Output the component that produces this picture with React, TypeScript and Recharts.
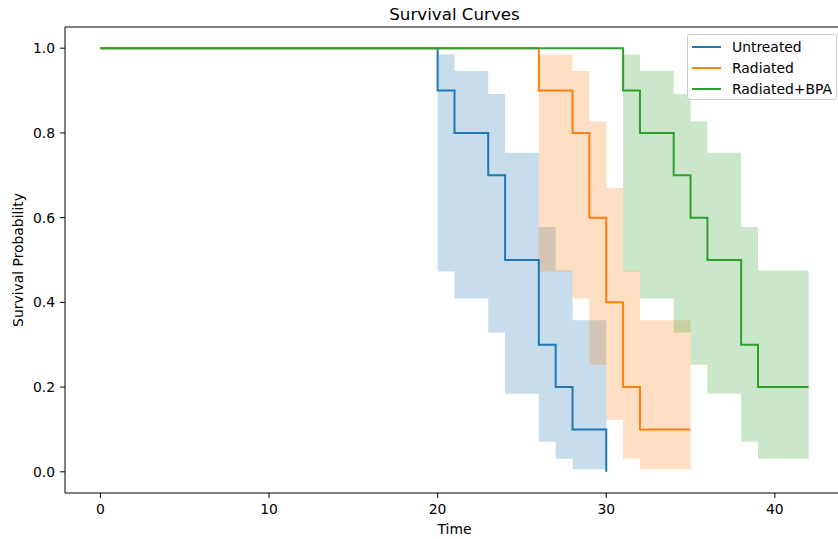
import React from "react";
import {
  Area,
  ComposedChart,
  Legend,
  Line,
  ReferenceLine,
  XAxis,
  YAxis
} from "recharts";

// Kaplan-Meier estimates (time, survival)
const untreatedTimes = [0, 20, 21, 23, 24, 26, 27, 28, 30];
const untreatedSurvival = [1, 0.9, 0.8, 0.7, 0.5, 0.3, 0.2, 0.1, 0];

const radiatedTimes = [0, 26, 28, 29, 30, 31, 32, 35];
const radiatedSurvival = [1, 0.9, 0.8, 0.6, 0.4, 0.2, 0.1, 0.1];

const bpaTimes = [0, 31, 32, 34, 35, 36, 38, 39, 42];
const bpaSurvival = [1, 0.9, 0.8, 0.7, 0.6, 0.5, 0.3, 0.2, 0.2];

// confidence bands (lower / upper)
const untreatedBandTimes = [20, 21, 23, 24, 26, 27, 28, 30];
const untreatedLower = [0.473, 0.409, 0.329, 0.184, 0.071, 0.031, 0.006, 0];
const untreatedUpper = [0.985, 0.946, 0.892, 0.753, 0.578, 0.475, 0.358, 0];

const radiatedBandTimes = [26, 28, 29, 30, 31, 32, 35];
const radiatedLower = [0.473, 0.409, 0.253, 0.123, 0.031, 0.006, 0.006];
const radiatedUpper = [0.985, 0.946, 0.827, 0.67, 0.475, 0.358, 0.358];

const bpaBandTimes = [31, 32, 34, 35, 36, 38, 39, 42];
const bpaLower = [0.473, 0.409, 0.329, 0.253, 0.184, 0.071, 0.031, 0.031];
const bpaUpper = [0.985, 0.946, 0.892, 0.827, 0.753, 0.578, 0.475, 0.475];

const xTicks = [0, 10, 20, 30, 40];
const yTicks = [0, 0.2, 0.4, 0.6, 0.8, 1.0];

const toLine = (t: number[], s: number[]) => t.map((x, i) => ({ t: x, s: s[i] }));
const toBand = (t: number[], lo: number[], hi: number[]) =>
  t.map((x, i) => ({ t: x, ci: [lo[i], hi[i]] }));

const groups = [
  {
    name: "Untreated",
    color: "#1f77b4",
    line: toLine(untreatedTimes, untreatedSurvival),
    band: toBand(untreatedBandTimes, untreatedLower, untreatedUpper)
  },
  {
    name: "Radiated",
    color: "#ff7f0e",
    line: toLine(radiatedTimes, radiatedSurvival),
    band: toBand(radiatedBandTimes, radiatedLower, radiatedUpper)
  },
  {
    name: "Radiated+BPA",
    color: "#2ca02c",
    line: toLine(bpaTimes, bpaSurvival),
    band: toBand(bpaBandTimes, bpaLower, bpaUpper)
  }
];

const FONT = "'DejaVu Sans', sans-serif";
const tickStyle = { fill: "#000", fontSize: 13.9, fontFamily: FONT };

const renderLegend = () => (
  <div
    style={{
      width: 150,
      height: 66,
      boxSizing: "border-box",
      border: "1px solid #cccccc",
      borderRadius: 3,
      background: "rgba(255,255,255,0.8)",
      paddingTop: 1,
      fontFamily: FONT,
      fontSize: 13.9,
      color: "#000"
    }}
  >
    {groups.map((g) => (
      <div key={g.name} style={{ display: "flex", alignItems: "center", height: 21 }}>
        <div style={{ marginLeft: 4, width: 29, height: 2, background: g.color }} />
        <span style={{ marginLeft: 11, whiteSpace: "nowrap" }}>{g.name}</span>
      </div>
    ))}
  </div>
);

export default function App() {
  return (
    <div
      style={{
        position: "absolute",
        left: 0,
        top: 0,
        width: 838,
        height: 539,
        overflow: "hidden",
        background: "#fff"
      }}
    >
      <ComposedChart
        width={850}
        height={539}
        margin={{ top: 27, right: 6, bottom: 0, left: 0 }}
      >
        <XAxis
          type="number"
          dataKey="t"
          domain={[-2.1, 44.1]}
          ticks={xTicks}
          allowDataOverflow
          height={46}
          tickSize={5}
          tickMargin={6}
          tick={tickStyle}
          stroke="#000"
          tickLine={{ stroke: "#000" }}
          label={{
            value: "Time",
            position: "insideBottom",
            offset: 5,
            style: { fill: "#000", fontSize: 13.9, fontFamily: FONT }
          }}
        />
        <YAxis
          type="number"
          domain={[-0.05, 1.05]}
          ticks={yTicks}
          allowDataOverflow
          width={65}
          tickSize={5}
          tickMargin={5}
          tick={tickStyle}
          tickFormatter={(v: number) => v.toFixed(1)}
          stroke="#000"
          tickLine={{ stroke: "#000" }}
          label={{
            value: "Survival Probability",
            angle: -90,
            position: "insideLeft",
            offset: 18,
            style: { textAnchor: "middle", fill: "#000", fontSize: 13.9, fontFamily: FONT }
          }}
        />
        <ReferenceLine
          y={1.05}
          stroke="#000"
          label={{
            value: "Survival Curves",
            position: "top",
            offset: 7,
            style: { fill: "#000", fontSize: 16.7, fontFamily: FONT }
          }}
        />
        <ReferenceLine x={44.1} stroke="#000" />
        {groups.map((g) => (
          <Area
            key={g.name + "-band"}
            data={g.band}
            dataKey="ci"
            type="stepAfter"
            stroke="none"
            fill={g.color}
            fillOpacity={0.25}
            isAnimationActive={false}
            legendType="none"
            activeDot={false}
          />
        ))}
        {groups.map((g) => (
          <Line
            key={g.name}
            name={g.name}
            data={g.line}
            dataKey="s"
            type="stepAfter"
            stroke={g.color}
            strokeWidth={2}
            dot={false}
            activeDot={false}
            isAnimationActive={false}
          />
        ))}
        <Legend
          layout="vertical"
          verticalAlign="middle"
          align="center"
          content={renderLegend}
          wrapperStyle={{ left: 687, top: 34, width: 150, height: 66 }}
        />
      </ComposedChart>
    </div>
  );
}
